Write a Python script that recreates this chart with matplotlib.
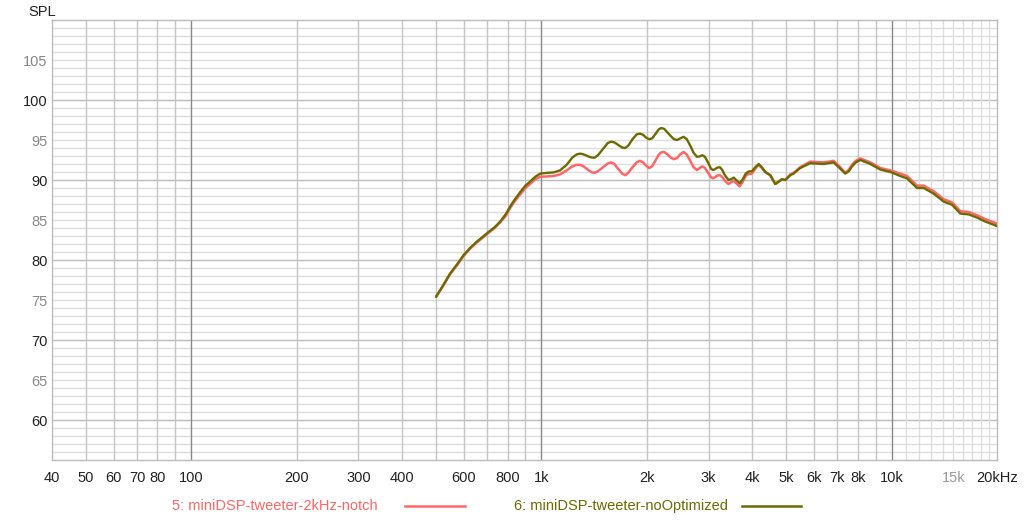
import matplotlib
matplotlib.use('Agg')
import matplotlib.pyplot as plt

# ── Data ─────────────────────────────────────────────────────────────────────
FREQ = [500, 525, 548, 575, 599, 625, 654, 680, 706, 735,
        762, 790, 814, 840, 870, 900, 928, 960, 992, 1040,
        1083, 1130, 1180, 1225, 1260, 1290, 1320, 1360, 1395, 1420,
        1450, 1500, 1545, 1580, 1615, 1655, 1700, 1734, 1770, 1820,
        1870, 1910, 1950, 1990, 2030, 2070, 2120, 2165, 2200, 2240,
        2290, 2340, 2390, 2440, 2490, 2546, 2600, 2660, 2720, 2780,
        2830, 2880, 2930, 2990, 3050, 3090, 3130, 3180, 3230, 3280,
        3340, 3420, 3480, 3540, 3600, 3680, 3760, 3830, 3900, 3990,
        4080, 4170, 4260, 4356, 4503, 4654, 4865, 4971, 5137, 5250,
        5484, 5857, 6392, 6831, 7100, 7375, 7550, 7709, 7900, 8142,
        8697, 9286, 9921, 10592, 11068, 11822, 12345, 13183, 14084, 14884,
        15721, 16600, 17540, 18528, 20000]

NOTCH = [75.4, 76.85, 78.2, 79.4, 80.5, 81.4, 82.2, 82.8, 83.4, 84.0,
         84.7, 85.5, 86.5, 87.4, 88.2, 89.0, 89.5, 90.1, 90.4, 90.45,
         90.5, 90.7, 91.2, 91.7, 91.9, 91.9, 91.7, 91.25, 90.95, 90.9,
         91.1, 91.6, 92.05, 92.2, 92.0, 91.4, 90.8, 90.6, 90.9, 91.6,
         92.2, 92.4, 92.2, 91.8, 91.5, 91.7, 92.5, 93.2, 93.45, 93.5,
         93.2, 92.8, 92.6, 92.75, 93.2, 93.5, 93.2, 92.4, 91.6, 91.25,
         91.5, 91.7, 91.5, 90.9, 90.35, 90.2, 90.35, 90.55, 90.6, 90.4,
         89.9, 89.5, 89.7, 89.9, 89.6, 89.2, 89.8, 90.5, 90.75, 90.8,
         91.4, 91.9, 91.5, 91.0, 90.6, 89.5, 90.1, 90.0, 90.7, 90.9,
         91.6, 92.3, 92.2, 92.4, 91.7, 90.9, 91.3, 91.9, 92.4, 92.7,
         92.2, 91.5, 91.2, 90.8, 90.5, 89.3, 89.3, 88.6, 87.6, 87.2,
         86.1, 86.0, 85.6, 85.1, 84.55]

NO_OPT = [75.4, 76.9, 78.3, 79.5, 80.6, 81.5, 82.3, 82.9, 83.5, 84.1,
          84.8, 85.7, 86.7, 87.6, 88.5, 89.3, 89.8, 90.4, 90.8, 90.9,
          90.95, 91.2, 91.9, 92.8, 93.2, 93.3, 93.2, 92.95, 92.8, 92.8,
          93.1, 93.9, 94.6, 94.8, 94.7, 94.4, 94.05, 94.0, 94.3, 95.1,
          95.7, 95.8, 95.65, 95.3, 95.1, 95.2, 95.8, 96.35, 96.5, 96.4,
          95.95, 95.5, 95.1, 95.0, 95.2, 95.4, 95.1, 94.3, 93.4, 92.9,
          92.95, 93.1, 92.9, 92.2, 91.4, 91.25, 91.35, 91.55, 91.6, 91.3,
          90.6, 90.0, 90.1, 90.3, 90.0, 89.6, 90.1, 90.8, 91.05, 91.1,
          91.6, 92.0, 91.6, 91.0, 90.6, 89.5, 90.1, 90.0, 90.6, 90.8,
          91.5, 92.1, 92.0, 92.2, 91.5, 90.8, 91.1, 91.7, 92.2, 92.5,
          92.0, 91.3, 91.0, 90.5, 90.2, 89.0, 89.0, 88.3, 87.3, 86.9,
          85.8, 85.7, 85.3, 84.8, 84.25]

X_TICKS = [40, 50, 60, 70, 80, 100, 200, 300, 400, 600, 800,
           1000, 2000, 3000, 4000, 5000, 6000, 7000, 8000, 10000, 15000, 20000]
X_LABELS = ['40', '50', '60', '70', '80', '100', '200', '300', '400', '600', '800',
            '1k', '2k', '3k', '4k', '5k', '6k', '7k', '8k', '10k', '15k', '20kHz']
Y_TICKS = [60, 65, 70, 75, 80, 85, 90, 95, 100, 105]

LABEL_NOTCH = '5: miniDSP-tweeter-2kHz-notch'
LABEL_NO_OPT = '6: miniDSP-tweeter-noOptimized'

RED = '#ff6666'
OLIVE = '#6b6b00'

plt.rcParams['font.family'] = ['Liberation Sans', 'DejaVu Sans']

fig = plt.figure(figsize=(10.24, 5.2), dpi=100)
ax = fig.add_axes([52 / 1024, 1 - 460 / 520, 945 / 1024, 440 / 520])
ax.set_xscale('log')
ax.set_xlim(40, 20000)
ax.set_ylim(55, 110)

# ── Grid ─────────────────────────────────────────────────────────────────────
for db in range(56, 110):
    col = '#bbbbbb' if db % 10 == 0 else '#dddddd'
    ax.axhline(db, color=col, lw=1.0, zorder=0)

grid_f = [f * m for m in (10, 100, 1000) for f in range(1, 10)] + list(range(10000, 20001, 1000))
for f in grid_f:
    if f <= 40 or f >= 20000:
        continue
    if f in (100, 1000, 10000):
        col = '#888888'
    elif f > 10000:
        col = '#dddddd'
    else:
        col = '#c4c4c4'
    ax.axvline(f, color=col, lw=1.0, zorder=0)

# ── Curves ───────────────────────────────────────────────────────────────────
ax.plot(FREQ, NOTCH, color=RED, lw=1.8, zorder=3,
        solid_capstyle='round', solid_joinstyle='round')
ax.plot(FREQ, NO_OPT, color=OLIVE, lw=1.7, zorder=4,
        solid_capstyle='round', solid_joinstyle='round')

# ── Axes styling ─────────────────────────────────────────────────────────────
for s in ax.spines.values():
    s.set_color('#bbbbbb')
    s.set_linewidth(1.0)

ax.xaxis.set_minor_locator(matplotlib.ticker.NullLocator())
ax.set_xticks(X_TICKS)
ax.set_xticklabels(X_LABELS)
ax.set_yticks(Y_TICKS)
ax.set_yticklabels([str(v) for v in Y_TICKS])
ax.tick_params(axis='both', length=0, labelsize=10.5, colors='#222222')
ax.tick_params(axis='x', pad=8)
ax.tick_params(axis='y', pad=3)
for lab, v in zip(ax.get_yticklabels(), Y_TICKS):
    lab.set_color('#222222' if v % 10 == 0 else '#888888')
for lab, t in zip(ax.get_xticklabels(), X_LABELS):
    if t == '15k':
        lab.set_color('#999999')

fig.text(28 / 1024, 1 - 12 / 520, 'SPL', fontsize=10.5, color='#222222',
         ha='left', va='center')

# ── Legend below the plot ────────────────────────────────────────────────────
ly = 1 - 506 / 520
fig.text(378 / 1024, ly, LABEL_NOTCH, color=RED, fontsize=10.5, ha='right', va='center')
fig.add_artist(plt.Line2D([405 / 1024, 465 / 1024], [ly, ly], color=RED, lw=1.8))
fig.text(514 / 1024, ly, LABEL_NO_OPT, color=OLIVE, fontsize=10.5, ha='left', va='center')
fig.add_artist(plt.Line2D([742 / 1024, 801 / 1024], [ly, ly], color=OLIVE, lw=1.8))

fig.savefig('out.png', dpi=100)
